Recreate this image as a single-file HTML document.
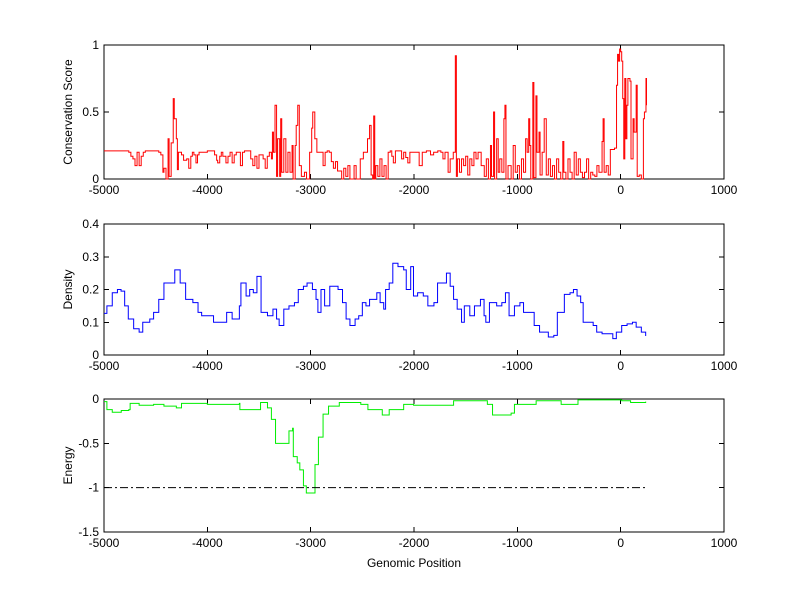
<!DOCTYPE html>
<html><head><meta charset="utf-8"><style>
html,body{margin:0;padding:0;background:#fff;}
svg{display:block;font-family:"Liberation Sans",Arial,sans-serif;}
</style></head><body>
<svg id="chart" width="800" height="599" viewBox="0 0 800 599" xmlns="http://www.w3.org/2000/svg">
<rect width="800" height="599" fill="#fff"/>
</svg>
<script>
const consPos=[-5000,-4800,-4760,-4740,-4720,-4700,-4690,-4680,-4660,-4640,-4620,-4600,-4500,-4470,-4450,-4430,-4420,-4400,-4380,-4370,-4350,-4330,-4320,-4300,-4290,-4280,-4260,-4250,-4230,-4200,-4180,-4160,-4145,-4130,-4110,-4095,-4080,-4000,-3960,-3930,-3910,-3900,-3880,-3865,-3850,-3820,-3800,-3780,-3760,-3740,-3720,-3700,-3680,-3660,-3640,-3620,-3580,-3560,-3540,-3520,-3500,-3460,-3440,-3420,-3400,-3380,-3370,-3360,-3345,-3330,-3320,-3300,-3290,-3280,-3260,-3240,-3220,-3200,-3180,-3170,-3150,-3140,-3125,-3110,-3090,-3060,-3040,-3010,-2990,-2980,-2960,-2940,-2920,-2880,-2860,-2840,-2820,-2800,-2780,-2760,-2740,-2700,-2680,-2660,-2640,-2620,-2580,-2560,-2520,-2490,-2450,-2430,-2415,-2400,-2390,-2380,-2370,-2350,-2330,-2310,-2290,-2270,-2250,-2230,-2215,-2200,-2180,-2150,-2120,-2100,-2080,-2060,-2040,-1980,-1950,-1920,-1880,-1840,-1810,-1770,-1740,-1720,-1700,-1670,-1650,-1620,-1600,-1590,-1580,-1560,-1540,-1520,-1500,-1480,-1460,-1440,-1420,-1400,-1380,-1350,-1320,-1300,-1280,-1260,-1250,-1230,-1220,-1200,-1185,-1170,-1150,-1130,-1120,-1110,-1090,-1060,-1040,-1020,-1000,-980,-960,-940,-920,-905,-890,-880,-870,-850,-840,-820,-810,-790,-780,-760,-740,-720,-700,-680,-660,-640,-620,-600,-580,-560,-550,-530,-510,-490,-470,-450,-430,-410,-390,-370,-350,-330,-310,-290,-270,-250,-230,-210,-180,-170,-160,-140,-120,-100,-60,-40,-30,-20,-10,0,10,20,30,40,50,60,70,90,100,120,130,150,160,180,200,220,230,245,250];
const consVal=[0.21,0.21,0.2,0.17,0.15,0.1,0.1,0.2,0.1,0.17,0.2,0.21,0.21,0.2,0.18,0.05,0.08,0.0,0.3,0.02,0.27,0.6,0.45,0.3,0.07,0.2,0.2,0.18,0.14,0.15,0.08,0.17,0.2,0.18,0.12,0.18,0.2,0.21,0.21,0.18,0.14,0.12,0.17,0.2,0.17,0.12,0.17,0.2,0.12,0.18,0.2,0.2,0.1,0.2,0.21,0.21,0.15,0.1,0.17,0.08,0.18,0.15,0.08,0.17,0.2,0.15,0.35,0.2,0.55,0.02,0.3,0.02,0.45,0.05,0.3,0.05,0.2,0.05,0.25,0.0,0.25,0.4,0.55,0.1,0.02,0.05,0.0,0.2,0.38,0.5,0.3,0.2,0.2,0.1,0.2,0.21,0.2,0.13,0.08,0.13,0.06,0.0,0.08,0.02,0.1,0.0,0.1,0.0,0.15,0.2,0.3,0.4,0.03,0.0,0.47,0.0,0.1,0.02,0.15,0.02,0.1,0.0,0.2,0.21,0.17,0.12,0.21,0.21,0.15,0.2,0.16,0.12,0.2,0.2,0.1,0.2,0.21,0.18,0.2,0.21,0.2,0.15,0.2,0.05,0.15,0.2,0.92,0.02,0.15,0.05,0.15,0.1,0.17,0.03,0.15,0.1,0.2,0.15,0.2,0.1,0.02,0.15,0.0,0.25,0.02,0.5,0.0,0.3,0.05,0.15,0.05,0.45,0.55,0.0,0.1,0.0,0.25,0.05,0.1,0.0,0.15,0.05,0.3,0.2,0.45,0.25,0.0,0.72,0.01,0.62,0.2,0.35,0.03,0.2,0.45,0.03,0.15,0.02,0.1,0.0,0.15,0.05,0.0,0.28,0.05,0.0,0.15,0.05,0.0,0.2,0.03,0.15,0.05,0.01,0.05,0.15,0.0,0.05,0.03,0.02,0.1,0.05,0.28,0.45,0.05,0.1,0.03,0.22,0.23,0.7,0.93,0.88,0.97,0.95,0.88,0.6,0.15,0.75,0.3,0.55,0.75,0.73,0.15,0.45,0.35,0.7,0.02,0.03,0.0,0.45,0.5,0.75,0.55];
const densPos=[-5000,-4972,-4920,-4870,-4835,-4800,-4765,-4713,-4660,-4625,-4557,-4520,-4470,-4420,-4367,-4315,-4263,-4210,-4140,-4090,-4055,-4000,-3940,-3865,-3813,-3760,-3710,-3690,-3675,-3640,-3625,-3590,-3555,-3520,-3492,-3480,-3418,-3365,-3330,-3305,-3260,-3210,-3157,-3120,-3070,-3035,-2983,-2948,-2930,-2900,-2865,-2815,-2735,-2692,-2657,-2620,-2570,-2535,-2500,-2465,-2430,-2360,-2328,-2293,-2275,-2240,-2205,-2155,-2100,-2075,-2032,-2005,-1965,-1910,-1866,-1807,-1772,-1720,-1686,-1650,-1617,-1582,-1540,-1513,-1460,-1415,-1357,-1322,-1305,-1270,-1200,-1150,-1115,-1080,-1028,-975,-940,-890,-837,-785,-700,-647,-613,-560,-545,-490,-457,-422,-387,-363,-266,-232,-180,-110,-76,-42,10,62,114,150,200,242];
const densVal=[0.127,0.15,0.19,0.2,0.195,0.15,0.11,0.08,0.07,0.1,0.11,0.13,0.17,0.22,0.22,0.26,0.22,0.17,0.16,0.13,0.12,0.12,0.1,0.1,0.13,0.11,0.11,0.15,0.22,0.22,0.18,0.2,0.19,0.24,0.24,0.13,0.12,0.14,0.11,0.09,0.14,0.15,0.16,0.2,0.21,0.22,0.2,0.17,0.13,0.2,0.15,0.21,0.2,0.16,0.11,0.09,0.11,0.12,0.16,0.15,0.17,0.19,0.16,0.14,0.2,0.22,0.28,0.27,0.26,0.2,0.27,0.18,0.19,0.18,0.15,0.16,0.22,0.22,0.25,0.21,0.17,0.14,0.1,0.15,0.12,0.15,0.17,0.12,0.1,0.16,0.15,0.16,0.19,0.12,0.15,0.16,0.13,0.13,0.09,0.07,0.055,0.06,0.13,0.13,0.185,0.19,0.2,0.18,0.16,0.1,0.09,0.07,0.065,0.065,0.05,0.07,0.09,0.095,0.1,0.085,0.07,0.058];
const enerPos=[-5000,-4972,-4920,-4833,-4760,-4747,-4660,-4520,-4420,-4300,-4250,-4000,-3690,-3685,-3520,-3485,-3418,-3380,-3340,-3260,-3210,-3175,-3168,-3130,-3105,-3070,-3042,-2965,-2958,-2925,-2880,-2827,-2723,-2515,-2446,-2307,-2240,-2100,-2004,-1617,-1290,-1240,-1060,-1028,-818,-576,-413,10,96,242];
const enerVal=[-0.03,-0.12,-0.15,-0.13,-0.12,-0.05,-0.07,-0.06,-0.08,-0.1,-0.05,-0.06,-0.05,-0.12,-0.12,-0.04,-0.1,-0.23,-0.5,-0.5,-0.36,-0.33,-0.65,-0.72,-0.8,-0.98,-1.06,-1.06,-0.74,-0.43,-0.17,-0.08,-0.04,-0.06,-0.12,-0.18,-0.12,-0.06,-0.07,-0.02,-0.06,-0.18,-0.16,-0.06,-0.02,-0.06,-0.01,-0.02,-0.04,-0.03];
const xTicks=[-5000,-4000,-3000,-2000,-1000,0,1000];
const thresholdVal=[-1];
const thresholdRange=[-5000,250];

const NS="http://www.w3.org/2000/svg";
const svg=document.getElementById('chart');
function mk(tag,attrs){const e=document.createElementNS(NS,tag);for(const k in attrs)e.setAttribute(k,attrs[k]);svg.appendChild(e);return e;}
const X0=104,X1=724;
const sx=v=>X0+(v+5000)/6000*(X1-X0);
function panel(name,top,bot,ymin,ymax,yTicks,yLabel,xLabel){
  const sy=v=>bot-(v-ymin)/(ymax-ymin)*(bot-top);
  const fr=mk('rect',{x:X0,y:top,width:X1-X0,height:bot-top,fill:'none',stroke:'#000','stroke-width':1,'shape-rendering':'crispEdges'});
  
  
  xTicks.forEach(t=>{
    const x=sx(t);
    const l=mk('path',{d:`M${x},${bot}V${bot-5}M${x},${top}V${top+5}`,stroke:'#000','shape-rendering':'crispEdges'});
    
    
    const tx=mk('text',{x:x,y:bot+15,'text-anchor':'middle','font-size':12});
    tx.textContent=t;
    
    
  });
  yTicks.forEach(t=>{
    const y=sy(t);
    const l=mk('path',{d:`M${X0},${y}H${X0+5}M${X1},${y}H${X1-5}`,stroke:'#000','shape-rendering':'crispEdges'});
    
    
    const tx=mk('text',{x:X0-5,y:y+4,'text-anchor':'end','font-size':12});
    tx.textContent=t;
    
    
  });
  const cy=(top+bot)/2;
  const yl=mk('text',{x:72,y:cy,'text-anchor':'middle','font-size':12,transform:`rotate(-90 72 ${cy})`});
  yl.textContent=yLabel;
  
  
  if(xLabel){
    const xl=mk('text',{x:(X0+X1)/2,y:bot+35,'text-anchor':'middle','font-size':12});
    xl.textContent=xLabel;
    
    
  }
  return sy;
}
function stairs(pos,val,sy,color,name){
  let d=`M${sx(pos[0])},${sy(val[0])}`;
  for(let i=1;i<pos.length;i++){d+=`H${sx(pos[i])}V${sy(val[i])}`;}
  const p=mk('path',{d:d,fill:'none',stroke:color,'stroke-width':1});
  
  
}
const sy1=panel('conservation',45,179,0,1,[0,0.5,1],'Conservation Score');
stairs(consPos,consVal,sy1,'#ff0000','conservation-line');
const sy2=panel('density',224,355,0,0.4,[0,0.1,0.2,0.3,0.4],'Density');
stairs(densPos,densVal,sy2,'#0000ff','density-line');
const sy3=panel('energy',399,532,-1.5,0,[-1.5,-1,-0.5,0],'Energy','Genomic Position');
stairs(enerPos,enerVal,sy3,'#00ee00','energy-line');
const th=mk('line',{x1:sx(thresholdRange[0]),x2:sx(thresholdRange[1]),y1:sy3(thresholdVal[0]),y2:sy3(thresholdVal[0]),stroke:'#000','stroke-dasharray':'8,3,2,3'});


</script>
</body></html>
